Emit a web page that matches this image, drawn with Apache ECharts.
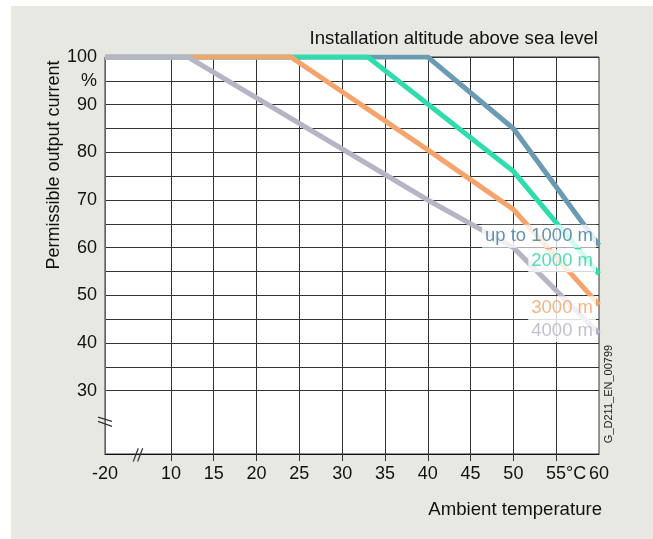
<!DOCTYPE html>
<html>
<head>
<meta charset="utf-8">
<script src="https://cdn.jsdelivr.net/npm/echarts@6/dist/echarts.min.js"></script>
<style>
  html, body { margin: 0; padding: 0; background: #fff; }
  .panel { position: absolute; left: 11px; top: 6px; width: 642px; height: 533px; background: #e8e8e3; }
  #main { position: absolute; left: 0; top: 0; width: 653px; height: 539px; }
</style>
</head>
<body>
<div class="panel"></div>
<div id="main"></div>
<script>
// derating curves
var altitudes = ['up to 1000 m', '2000 m', '3000 m', '4000 m']
var temp1000 = [-20, 40, 50, 60]
var current1000 = [100, 100, 85, 60.5]
var temp2000 = [-20, 33, 50, 60]
var current2000 = [100, 100, 76, 54.5]
var temp3000 = [-20, 24, 40, 50, 60]
var current3000 = [100, 100, 80.5, 68, 48]
var temp4000 = [-20, 12, 40, 50, 60]
var current4000 = [100, 100, 70, 60, 42]

var xTicks = [10, 15, 20, 25, 30, 35, 40, 45, 50, 55]
var xLabels = [-20, 10, 15, 20, 25, 30, 35, 40, 45, 50, 55, 60]
var yTicks = [30, 35, 40, 45, 50, 55, 60, 65, 70, 75, 80, 85, 90, 95, 100]

// the axis is broken between -20 and 10: squeeze that part
var BREAK_POS = 2.3
function toAxisX(t) {
  return t < 10 ? BREAK_POS + (t + 20) * (10 - BREAK_POS) / 30 : t
}

var FONT = 'Liberation Sans, Arial, sans-serif'
var lineColors = ['#6a9bb3', '#2fdcab', '#f5a46c', '#b5b5c5']
var textColors = ['#3f7896', '#2bd4a4', '#f3a065', '#b0b0c4']
var labelOffsets = [-9, -13, 3, -3]

var temps = [temp1000, temp2000, temp3000, temp4000]
var currents = [current1000, current2000, current3000, current4000]

var myChart = echarts.init(document.getElementById('main'))

var series = temps.map(function (t, i) {
  return {
    name: altitudes[i],
    type: 'line',
    showSymbol: false,
    silent: true,
    z: 2,
    lineStyle: { width: 5, color: lineColors[i], join: 'miter' },
    data: t.map(function (x, k) { return [toAxisX(x), currents[i][k]] })
  }
})

// end labels with white boxes, drawn above all lines
series.push({
  type: 'scatter',
  silent: true,
  z: 5,
  symbolSize: 0,
  data: temps.map(function (t, i) {
    var last = t.length - 1
    return {
      value: [toAxisX(t[last]), currents[i][last]],
      label: {
        show: true,
        formatter: altitudes[i],
        position: 'left',
        distance: 3,
        offset: [0, labelOffsets[i]],
        color: textColors[i],
        fontSize: 18.5,
        fontFamily: FONT,
        backgroundColor: '#fff',
        padding: [1, 3, 1, 3],
        lineHeight: 21
      }
    }
  })
})

myChart.setOption({
  backgroundColor: 'transparent',
  animation: false,
  textStyle: { fontFamily: FONT },
  title: [
    {
      text: 'Installation altitude above sea level',
      right: 55,
      top: 29,
      padding: 0,
      textStyle: { fontSize: 18.6, fontWeight: 'normal', color: '#111' }
    },
    {
      text: 'Ambient temperature',
      right: 51,
      top: 500,
      padding: 0,
      textStyle: { fontSize: 18.6, fontWeight: 'normal', color: '#111' }
    }
  ],
  grid: {
    left: 105,
    right: 54,
    top: 57,
    bottom: 85,
    show: true,
    backgroundColor: '#fff',
    borderColor: '#333',
    borderWidth: 1
  },
  xAxis: {
    type: 'value',
    min: BREAK_POS,
    max: 60,
    axisLine: { show: true, lineStyle: { color: '#111', width: 1 } },
    axisTick: { show: true, length: 7, lineStyle: { color: '#333' }, customValues: xTicks },
    splitLine: { show: true, lineStyle: { color: '#333', width: 1 } },
    axisLabel: {
      customValues: xLabels.map(toAxisX),
      margin: 11,
      fontSize: 18,
      color: '#111',
      formatter: function (v) {
        if (Math.abs(v - BREAK_POS) < 0.01) return '-20'
        if (v === 55) return '{pad|}55°C'
        return String(v)
      },
      rich: { pad: { width: 20 } }
    }
  },
  yAxis: {
    type: 'value',
    min: 16.7,
    max: 100,
    axisLine: { show: true, lineStyle: { color: '#666', width: 1 } },
    axisTick: { show: false, customValues: yTicks },
    splitLine: { show: true, lineStyle: { color: '#333', width: 1 } },
    axisLabel: {
      customValues: yTicks,
      margin: 8,
      fontSize: 18,
      color: '#111',
      formatter: function (v) {
        if (v === 95) return '%'
        return v % 10 === 0 ? String(v) : ''
      }
    }
  },
  series: series
})

// axis break marks and side texts
var yb = myChart.convertToPixel({ gridIndex: 0 }, [BREAK_POS, 23.5])
var xb = myChart.convertToPixel({ gridIndex: 0 }, [6.15, 16.7])
var markStyle = { stroke: '#333', lineWidth: 1.2 }
myChart.setOption({
  graphic: [
    { type: 'line', shape: { x1: yb[0] - 7, y1: yb[1] - 4.5, x2: yb[0] + 7, y2: yb[1] - 0.2 }, style: markStyle, z: 10 },
    { type: 'line', shape: { x1: yb[0] - 7, y1: yb[1] - 0.2, x2: yb[0] + 7, y2: yb[1] + 4.8 }, style: markStyle, z: 10 },
    { type: 'line', shape: { x1: xb[0] - 4.7, y1: xb[1] + 7.5, x2: xb[0] + 0.3, y2: xb[1] - 5.7 }, style: markStyle, z: 10 },
    { type: 'line', shape: { x1: xb[0] - 0.3, y1: xb[1] + 7.5, x2: xb[0] + 4.7, y2: xb[1] - 5.7 }, style: markStyle, z: 10 },
    {
      type: 'text',
      x: 54,
      y: 165,
      rotation: Math.PI / 2,
      style: {
        text: 'Permissible output current',
        fontSize: 18,
        fontFamily: FONT,
        fill: '#111',
        align: 'center',
        verticalAlign: 'middle'
      }
    },
    {
      type: 'text',
      x: 609,
      y: 394,
      rotation: Math.PI / 2,
      style: {
        text: 'G_D211_EN_00799',
        fontSize: 11,
        fontFamily: FONT,
        fill: '#222',
        align: 'center',
        verticalAlign: 'middle'
      }
    }
  ]
})
</script>
</body>
</html>
